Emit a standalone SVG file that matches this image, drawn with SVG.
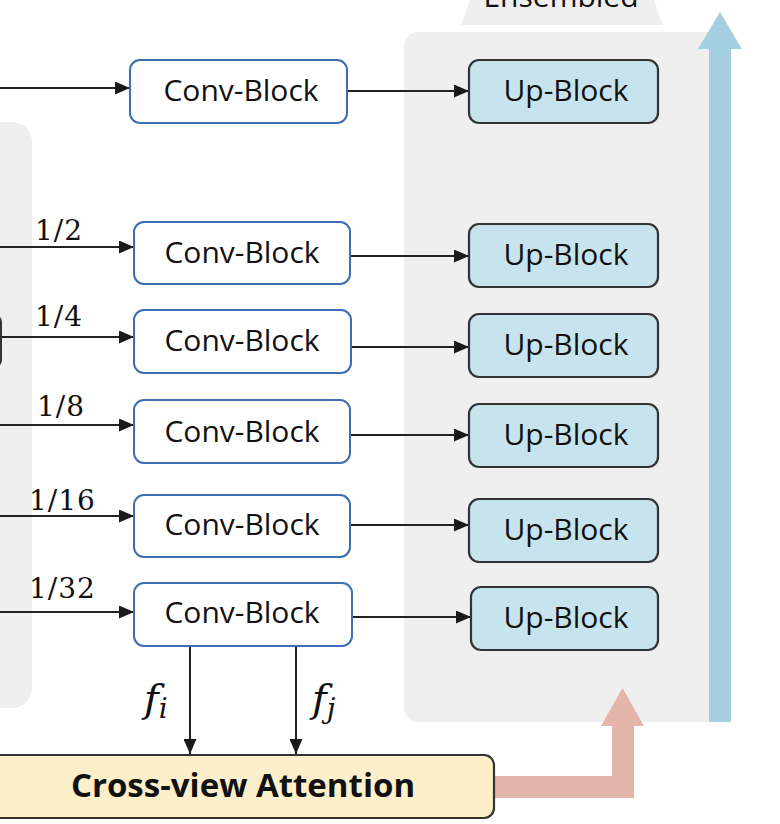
<svg xmlns="http://www.w3.org/2000/svg" width="780" height="824" viewBox="0 0 780 824">
<style>
.panel{fill:#efefef;}
.conv rect{fill:#ffffff;stroke:#3d6eb4;stroke-width:2;}
.up rect{fill:#c7e3ee;stroke:#333333;stroke-width:2.2;}
.lbl{font-family:"Open Sans","Noto Sans","Liberation Sans",sans-serif;font-size:30px;fill:#111;text-anchor:middle;}
.frac{font-family:"DejaVu Serif","Liberation Serif",serif;font-size:28px;fill:#111;letter-spacing:1px;}
.math{font-family:"DejaVu Serif","Liberation Serif",serif;font-style:italic;fill:#111;}
.conn line{stroke:#222;stroke-width:2;fill:none;marker-end:url(#ah);}
</style>
<defs>
<marker id="ah" markerUnits="userSpaceOnUse" markerWidth="15" markerHeight="13" refX="15" refY="6.5" orient="auto">
<path d="M0,0 L15,6.5 L0,13 z" fill="#1a1a1a"/>
</marker>
</defs>
<rect width="780" height="824" fill="#ffffff"/>

<!-- background panels -->
<g id="left-panel">
<rect class="panel" x="-30" y="122" width="62" height="586" rx="20"/>
<rect x="-30" y="316" width="31" height="50" rx="6" fill="none" stroke="#333" stroke-width="2"/>
</g>
<g id="ensembled-panel">
<polygon class="panel" points="461,25 663,25 645,-25 479,-25"/>
<text class="lbl" x="561" y="7">Ensembled</text>
<rect class="panel" x="404" y="32" width="320" height="690" rx="14"/>
</g>

<!-- connectors -->
<g id="connectors" class="conn">
<line x1="-5" y1="88" x2="130" y2="88"/>
<line x1="-5" y1="247" x2="134" y2="247"/>
<line x1="1" y1="337" x2="134" y2="337"/>
<line x1="-5" y1="425" x2="134" y2="425"/>
<line x1="-5" y1="516" x2="134" y2="516"/>
<line x1="-5" y1="612" x2="134" y2="612"/>
<line x1="347" y1="91" x2="469" y2="91"/>
<line x1="350" y1="256" x2="469" y2="256"/>
<line x1="351" y1="347" x2="469" y2="347"/>
<line x1="350" y1="435" x2="469" y2="435"/>
<line x1="350" y1="525" x2="469" y2="525"/>
<line x1="352" y1="617" x2="471" y2="617"/>
<line x1="190" y1="647" x2="190" y2="754"/>
<line x1="296" y1="647" x2="296" y2="754"/>
</g>

<g id="scale-labels">
<text class="frac" x="35" y="240">1/2</text>
<text class="frac" x="35" y="326">1/4</text>
<text class="frac" x="37" y="416">1/8</text>
<text class="frac" x="29" y="510">1/16</text>
<text class="frac" x="29" y="598">1/32</text>
<text class="math" x="144" y="712" font-size="40">f<tspan font-size="28" dy="6">i</tspan></text>
<text class="math" x="312" y="712" font-size="40">f<tspan font-size="28" dy="6">j</tspan></text>
</g>

<!-- Conv blocks -->
<g id="conv1" class="conv"><rect x="130" y="60" width="217" height="63" rx="10"/><text class="lbl" x="241" y="101">Conv-Block</text></g>
<g id="conv2" class="conv"><rect x="134" y="222" width="216" height="62" rx="10"/><text class="lbl" x="242" y="263">Conv-Block</text></g>
<g id="conv3" class="conv"><rect x="134" y="310" width="217" height="63" rx="10"/><text class="lbl" x="242" y="351">Conv-Block</text></g>
<g id="conv4" class="conv"><rect x="134" y="400" width="216" height="63" rx="10"/><text class="lbl" x="242" y="442">Conv-Block</text></g>
<g id="conv5" class="conv"><rect x="134" y="495" width="216" height="62" rx="10"/><text class="lbl" x="242" y="535">Conv-Block</text></g>
<g id="conv6" class="conv"><rect x="134" y="583" width="218" height="63" rx="10"/><text class="lbl" x="242" y="623">Conv-Block</text></g>

<!-- Up blocks -->
<g id="up1" class="up"><rect x="469" y="60" width="189" height="63" rx="10"/><text class="lbl" x="566" y="101">Up-Block</text></g>
<g id="up2" class="up"><rect x="469" y="224" width="189" height="63" rx="10"/><text class="lbl" x="566" y="265">Up-Block</text></g>
<g id="up3" class="up"><rect x="469" y="314" width="189" height="63" rx="10"/><text class="lbl" x="566" y="355">Up-Block</text></g>
<g id="up4" class="up"><rect x="469" y="404" width="189" height="63" rx="10"/><text class="lbl" x="566" y="445">Up-Block</text></g>
<g id="up5" class="up"><rect x="469" y="499" width="189" height="63" rx="10"/><text class="lbl" x="566" y="540">Up-Block</text></g>
<g id="up6" class="up"><rect x="471" y="587" width="187" height="63" rx="10"/><text class="lbl" x="566" y="628">Up-Block</text></g>

<!-- big arrows -->
<g id="ensemble-arrow">
<polygon points="709,722 731,722 731,49 742,49 720,12 698,49 709,49" fill="#a5cfe0"/>
</g>
<g id="attention-arrow">
<polygon points="490,776 612,776 612,726 601,726 622.5,688 644,726 634,726 634,798 490,798" fill="#e3b5ab"/>
</g>

<g id="cross-view-attention">
<rect x="-20" y="755" width="514" height="63" rx="10" fill="#fdefc9" stroke="#333" stroke-width="2.2"/>
<text x="243" y="797" font-family="'Open Sans','Noto Sans','Liberation Sans',sans-serif" font-size="33" font-weight="bold" fill="#111" text-anchor="middle">Cross-view Attention</text>
</g>
</svg>
